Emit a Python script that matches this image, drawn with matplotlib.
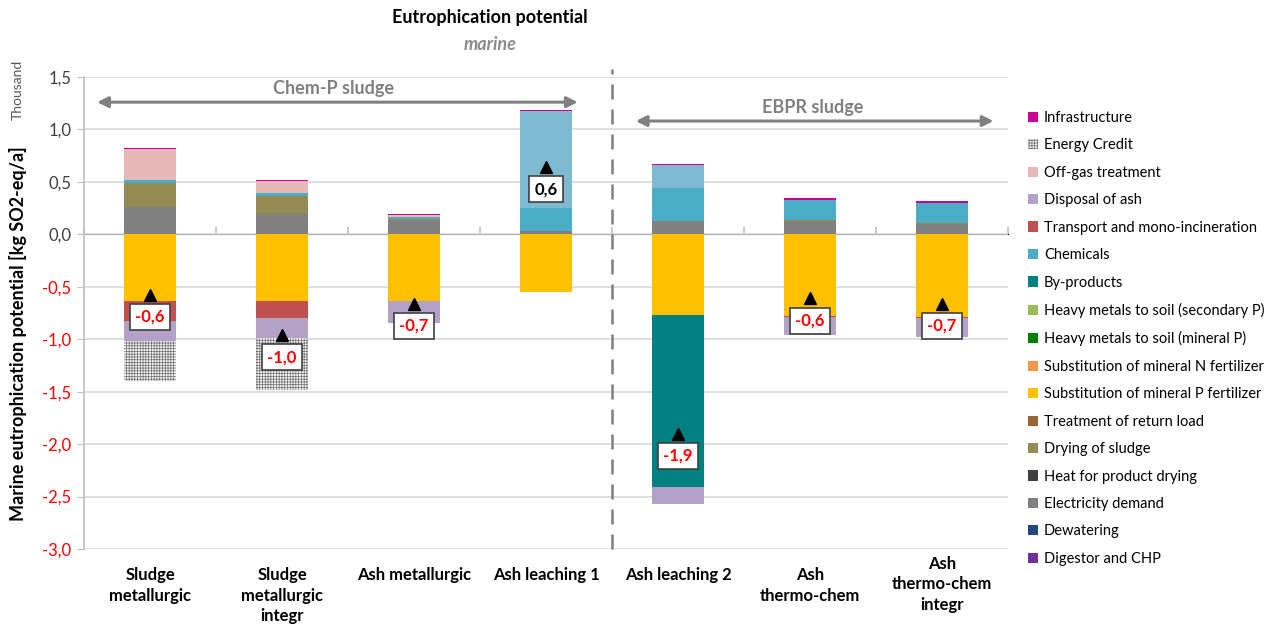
import numpy as np
import matplotlib
matplotlib.use("Agg")
import matplotlib.pyplot as plt
from matplotlib.patches import Patch

plt.rcParams["font.family"] = ["Lato", "DejaVu Sans"]
plt.rcParams["hatch.linewidth"] = 0.5

categories = ["Sludge\nmetallurgic", "Sludge\nmetallurgic\nintegr", "Ash metallurgic",
              "Ash leaching 1", "Ash leaching 2", "Ash\nthermo-chem", "Ash\nthermo-chem\nintegr"]

# contributions per process step, thousand kg SO2-eq/a
digestor = [0, 0, 0, 0, 0, 0, 0]
dewatering = [0, 0, 0, 0, 0, 0, 0]
electricity = [0.26, 0.19, 0.14, 0.03, 0.125, 0.13, 0.10]
heat_drying = [0, 0, 0, 0, 0, 0, 0]
drying_sludge = [0.23, 0.18, 0.005, 0, 0, 0.01, 0.01]
return_load = [0, 0, 0, 0, 0, 0, 0]
subst_p = [-0.64, -0.64, -0.64, -0.55, -0.77, -0.775, -0.79]
subst_n = [0, 0, 0, 0, 0, 0, 0]
hm_mineral = [0, 0, 0, 0, 0, 0, 0]
hm_secondary = [0, 0, 0, 0, 0, 0, 0]
by_products = [0, 0, 0, 0, -1.64, 0, 0]
chemicals = [0.03, 0.02, 0.02, 0.22, 0.32, 0.19, 0.19]
leach_agents = [0, 0, 0, 0.93, 0.22, 0, 0]
transport = [-0.19, -0.16, 0, 0, 0, -0.01, -0.01]
disposal_ash = [-0.19, -0.19, -0.21, 0, -0.165, -0.175, -0.18]
off_gas = [0.29, 0.12, 0.02, 0, 0, 0, 0]
energy_credit = [-0.375, -0.49, 0, 0, 0, 0, 0]
infrastructure = [0.01, 0.01, 0.005, 0.01, 0.01, 0.02, 0.02]

# stacking order (bottom to top); legend lists it reversed
series = [
    ("Digestor and CHP", digestor, "#7030A0", None),
    ("Dewatering", dewatering, "#1F497D", None),
    ("Electricity demand", electricity, "#808080", None),
    ("Heat for product drying", heat_drying, "#404040", None),
    ("Drying of sludge", drying_sludge, "#948A54", None),
    ("Treatment of return load", return_load, "#996633", None),
    ("Substitution of mineral P fertilizer", subst_p, "#FFC000", None),
    ("Substitution of mineral N fertilizer", subst_n, "#F79646", None),
    ("Heavy metals to soil (mineral P)", hm_mineral, "#008000", None),
    ("Heavy metals to soil (secondary P)", hm_secondary, "#9BBB59", None),
    ("By-products", by_products, "#008080", None),
    ("Chemicals", chemicals, "#4BACC6", None),
    ("_leach", leach_agents, "#7FBBD0", None),
    ("Transport and mono-incineration", transport, "#C0504D", None),
    ("Disposal of ash", disposal_ash, "#B3A2C7", None),
    ("Off-gas treatment", off_gas, "#E6B9B8", None),
    ("Energy Credit", energy_credit, "#707070", "++++++"),
    ("Infrastructure", infrastructure, "#CC0099", None),
]

fig = plt.figure(figsize=(12.78, 6.30), dpi=100)
ax = fig.add_axes([84 / 1278, 1 - 549 / 630, 924 / 1278, 472 / 630])

x = np.arange(len(categories))
width = 0.39
pos_base = np.zeros(len(x))
neg_base = np.zeros(len(x))
handles = []
for name, vals, color, hatch in series:
    vals = np.array(vals, dtype=float)
    pos = np.where(vals > 0, vals, 0)
    neg = np.where(vals < 0, vals, 0)
    if hatch:
        kw = dict(facecolor="#F2F2F2", edgecolor=color, hatch=hatch, linewidth=0)
    else:
        kw = dict(color=color, linewidth=0)
    ax.bar(x, pos, width, bottom=pos_base, zorder=2, **kw)
    ax.bar(x, neg, width, bottom=neg_base, zorder=2, **kw)
    pos_base += pos
    neg_base += neg
    if not name.startswith("_"):
        handles.append(Patch(label=name, **kw))

net = pos_base + neg_base
ax.plot(x, net, "^", color="black", markersize=9, zorder=5)
for xi, v in zip(x, net):
    txt = f"{v:.1f}".replace(".", ",")
    ax.annotate(txt, (xi, v), xytext=(0, -16), textcoords="offset points",
                ha="center", va="center", fontsize=12, fontweight="bold",
                color="red" if v < 0 else "black", zorder=6,
                bbox=dict(boxstyle="square,pad=0.3", fc="white", ec="#404040", lw=1.2))

ax.set_xlim(-0.5, 6.5)
ax.set_ylim(-3.0, 1.5)
yticks = np.arange(-3.0, 1.51, 0.5)
ax.set_yticks(yticks)
ax.set_yticklabels([f"{t:.1f}".replace(".", ",") for t in yticks], fontsize=12)
for lab, t in zip(ax.get_yticklabels(), yticks):
    lab.set_color("red" if t < 0 else "#404040")
ax.tick_params(axis="y", length=5, color="#BFBFBF", pad=4)
ax.set_xticks([])
ax.yaxis.grid(True, color="#D9D9D9", linewidth=1.2)
ax.set_axisbelow(True)
for side in ["top", "right", "bottom"]:
    ax.spines[side].set_visible(False)
ax.spines["left"].set_color("#BFBFBF")
ax.spines["left"].set_linewidth(1.2)

# category axis sits on the zero line, ticks between groups
zero_ax = ax.secondary_xaxis(3.0 / 4.5)
zero_ax.set_xticks(np.arange(-0.5, 7, 1.0))
zero_ax.set_xticklabels([])
zero_ax.tick_params(length=5, color="#BFBFBF", width=1.2)
zero_ax.spines["bottom"].set_color("#BFBFBF")
zero_ax.spines["bottom"].set_linewidth(1.2)

for i, cat in enumerate(categories):
    dy = -5 if i == len(categories) - 1 else -13
    ax.annotate(cat, (i, 0), xycoords=("data", "axes fraction"), xytext=(0, dy),
                textcoords="offset points", ha="center", va="top", fontsize=12,
                fontweight="bold", linespacing=1.35)

# separation between the two sludge types
ax.plot([3.5, 3.5], [-3.0, 1.58], color="#808080", linestyle=(0, (6, 4)), linewidth=1.8,
        clip_on=False, zorder=1)

arrow = dict(arrowstyle="<|-|>", color="#808080", lw=2.2, mutation_scale=16, shrinkA=0, shrinkB=0)
ax.annotate("", xy=(-0.40, 1.26), xytext=(3.24, 1.26), arrowprops=arrow, annotation_clip=False)
ax.text(1.39, 1.39, "Chem-P sludge", ha="center", va="center", fontsize=13,
        fontweight="bold", color="#808080")
ax.annotate("", xy=(3.68, 1.08), xytext=(6.39, 1.08), arrowprops=arrow, annotation_clip=False)
ax.text(5.02, 1.21, "EBPR sludge", ha="center", va="center", fontsize=13,
        fontweight="bold", color="#808080")

fig.text(490 / 1278, 1 - 18 / 630, "Eutrophication potential", ha="center", va="center",
         fontsize=13, fontweight="bold")
fig.text(490 / 1278, 1 - 45 / 630, "marine", ha="center", va="center", fontsize=13,
         fontweight="bold", style="italic", color="#8C8C8C")
fig.text(18 / 1278, 1 - 334 / 630, "Marine eutrophication potential [kg SO2-eq/a]",
         rotation=90, ha="center", va="center", fontsize=13, fontweight="bold")
fig.text(18 / 1278, 1 - 90 / 630, "Thousand", rotation=90, ha="center", va="center",
         fontsize=10, color="#595959")

fig.legend(handles=handles[::-1], loc="upper left", bbox_to_anchor=(1028 / 1278, 1 - 111 / 630),
           frameon=False, fontsize=10.5, handlelength=0.7, handleheight=0.7, handletextpad=0.4,
           labelspacing=0.92, borderpad=0, borderaxespad=0)

fig.savefig("out.png", dpi=100)
